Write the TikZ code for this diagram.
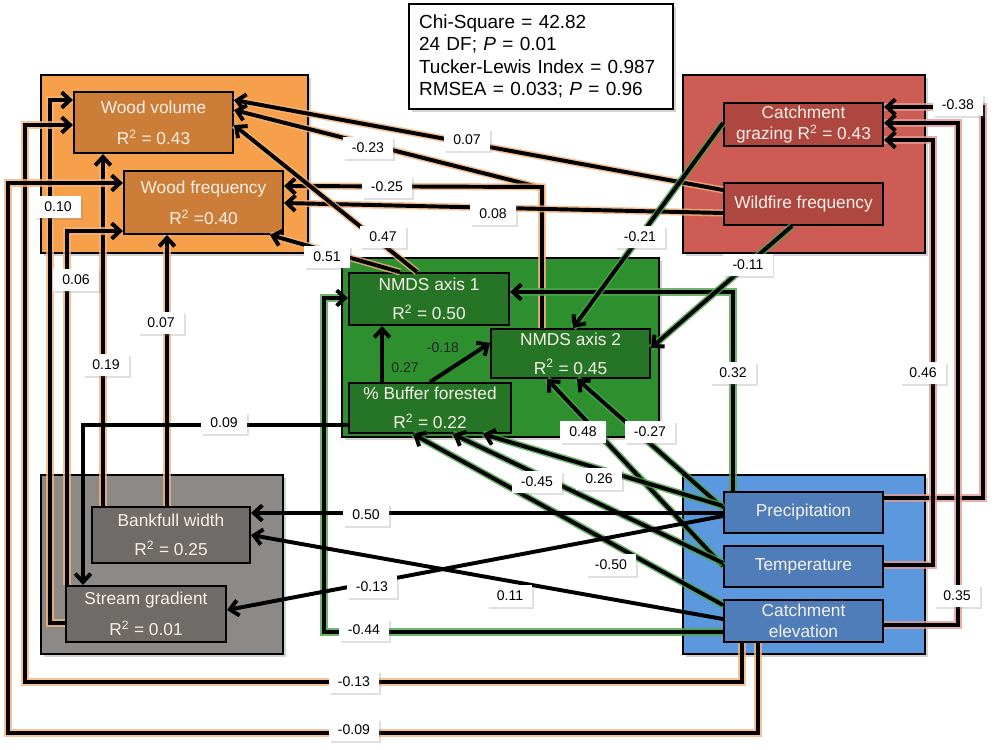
\documentclass[tikz,border=0pt]{standalone}
\usepackage{fontspec}
\setmainfont{Liberation Sans}
\usetikzlibrary{arrows.meta,shadows}

\definecolor{orgrp}{HTML}{F6A04B}
\definecolor{orvar}{HTML}{CC7D38}
\definecolor{rdgrp}{HTML}{CD5C55}
\definecolor{rdvar}{HTML}{AF4741}
\definecolor{gngrp}{HTML}{2E8F2E}
\definecolor{gnvar}{HTML}{267526}
\definecolor{gygrp}{HTML}{8D8986}
\definecolor{gyvar}{HTML}{6F6B68}
\definecolor{blgrp}{HTML}{5B98DE}
\definecolor{blvar}{HTML}{4F7DBA}
\definecolor{orglow}{HTML}{F4B27A}
\definecolor{gnglow}{HTML}{4CA64C}
\definecolor{rdglow}{HTML}{E49A94}
\definecolor{vartext}{HTML}{F7F0E8}

\tikzset{
	grp/.style={draw=black, line width=1.8pt, drop shadow={shadow xshift=2pt, shadow yshift=-2pt, opacity=0.35}},
	var/.style={draw=black, line width=1.4pt, minimum width=3.975cm, inner sep=0pt, align=center, text=vartext, font=\fontsize{12.3}{15}\selectfont},
	arr/.style={line width=2.8pt, -{Straight Barb[length=6pt, width=11pt]}},
	orglw/.style={preaction={draw=orglow, line width=5pt, opacity=0.8, -}},
	gnglw/.style={preaction={draw=gnglow, line width=5pt, opacity=0.8, -}},
	rdglw/.style={preaction={draw=rdglow, line width=5pt, opacity=0.8, -}},
	coef/.style={fill=white, inner xsep=6.5pt, inner ysep=0pt, minimum height=15.5pt, font=\fontsize{10}{12}\selectfont, drop shadow={shadow xshift=1.2pt, shadow yshift=-1.2pt, opacity=0.25}},
	stats/.style={draw=black, line width=1.5pt, fill=white, minimum width=6.6cm, minimum height=2.625cm, text width=6.1cm, align=left, inner xsep=7pt, font=\fontsize{13.5}{16}\selectfont, drop shadow={shadow xshift=2pt, shadow yshift=-2pt, opacity=0.35}}
}

\begin{document}
\begin{tikzpicture}[x=0.025cm, y=-0.025cm]
	\useasboundingbox (0,0) rectangle (1000,750);
	\fill[white] (0,0) rectangle (1000,750);
	% groups
	\draw[grp, fill=orgrp] (41,75) rectangle (308,253);
	\draw[grp, fill=rdgrp] (683,75) rectangle (925,253);
	\draw[grp, fill=gngrp] (342,258) rectangle (659,437);
	\draw[grp, fill=gygrp] (41,475) rectangle (283,654);
	\draw[grp, fill=blgrp] (683,475) rectangle (925,654);
	% variables
	\node[var, fill=orvar, minimum height=1.525cm] (wv) at (153.5,122.5) {Wood volume\\[7pt]R\textsuperscript{2} = 0.43};
	\node[var, fill=orvar, minimum height=1.575cm] (wf) at (203.5,202.5) {Wood frequency\\[7pt]R\textsuperscript{2} =0.40};
	\node[var, fill=rdvar, minimum height=1.075cm] (gr) at (803.5,124.5) {Catchment\\grazing R\textsuperscript{2} = 0.43};
	\node[var, fill=rdvar, minimum height=1.05cm] (wild) at (803.5,204) {Wildfire frequency};
	\node[var, fill=gnvar, minimum height=1.3cm, minimum width=4cm] (nm1) at (429,299) {NMDS axis 1\\[6pt]R\textsuperscript{2} = 0.50};
	\node[var, fill=gnvar, minimum height=1.225cm] (nm2) at (570.5,353.5) {NMDS axis 2\\[5.5pt]R\textsuperscript{2} = 0.45};
	\node[var, fill=gnvar, minimum height=1.25cm, minimum width=4.05cm] (bf) at (430,408) {\% Buffer forested\\[5.5pt]R\textsuperscript{2} = 0.22};
	\node[var, fill=gyvar, minimum height=1.4cm, minimum width=3.95cm] (bw) at (171,535) {Bankfull width\\[6pt]R\textsuperscript{2} = 0.25};
	\node[var, fill=gyvar, minimum height=1.4cm, minimum width=4cm] (sg) at (146,614) {Stream gradient\\[7pt]R\textsuperscript{2} = 0.01};
	\node[var, fill=blvar, minimum height=1.025cm] (pr) at (803.5,512.5) {Precipitation};
	\node[var, fill=blvar, minimum height=1.025cm] (te) at (803.5,566.5) {Temperature};
	\node[var, fill=blvar, minimum height=1.05cm] (el) at (803.5,621) {Catchment\\elevation};
	% paths to wood
	\draw[arr, orglw] (wild.west |- 0,190) -- (wv.east |- 0,100);
	\draw[arr, orglw] (542,0 |- nm2.north) -- (542,188) -- (wv.east |- 0,110);
	\draw[arr, orglw] (542,0 |- nm2.north) -- (542,187) -- (wf.east |- 0,186);
	\draw[arr, orglw] (wild.west |- 0,213) -- (wf.east |- 0,203);
	\draw[arr, orglw] (417,0 |- nm1.north) -- (wv.east |- 0,125);
	\draw[arr, orglw] (400,0 |- nm1.north) -- (270,0 |- wf.south);
	\draw[arr, orglw] (103,0 |- bw.north) -- (103,0 |- wv.south);
	\draw[arr, orglw] (167,0 |- bw.north) -- (167,0 |- wf.south);
	\draw[arr, orglw] (sg.west |- 0,623) -- (50,623) -- (50,100) -- (wv.west |- 0,100);
	\draw[arr, orglw] (67,0 |- sg.north) -- (67,231) -- (wf.west |- 0,231);
	\draw[arr, orglw] (742,0 |- el.south) -- (742,682) -- (25,682) -- (25,125) -- (wv.west |- 0,125);
	\draw[arr, orglw] (758,0 |- el.south) -- (758,733) -- (8,733) -- (8,183) -- (wf.west |- 0,183);
	% paths to community and buffer
	\draw[arr, gnglw] (733,0 |- pr.north) -- (733,292) -- (nm1.east |- 0,292);
	\draw[arr, gnglw] (el.west |- 0,632) -- (324,632) -- (324,298) -- (nm1.west |- 0,298);
	\draw[arr, gnglw] (pr.west |- 0,508) -- (577,0 |- nm2.south);
	\draw[arr, gnglw] (te.west |- 0,566) -- (547,0 |- nm2.south);
	\draw[arr, gnglw] (pr.west |- 0,506) -- (483,0 |- bf.south);
	\draw[arr, gnglw] (te.west |- 0,563) -- (453,0 |- bf.south);
	\draw[arr, gnglw] (el.west |- 0,605) -- (413,0 |- bf.south);
	\draw[arr, gnglw] (gr.west |- 0,123) -- (573,0 |- nm2.north);
	\draw[arr, gnglw] (792,0 |- wild.south) -- (nm2.east |- 0,348);
	% channel paths
	\draw[arr] (pr.west |- 0,513) -- (bw.east |- 0,513);
	\draw[arr] (el.west |- 0,619) -- (bw.east |- 0,535);
	\draw[arr] (pr.west |- 0,516) -- (sg.east |- 0,610);
	\draw[arr] (bf.west |- 0,425) -- (83,425) -- (83,0 |- sg.north);
	\draw[arr] (382,0 |- bf.north) -- (382,0 |- nm1.south);
	\draw[arr] (430,0 |- bf.north) -- (nm2.west |- 0,343);
	% paths to grazing
	\draw[arr, rdglw] (pr.east |- 0,498) -- (983,498) -- (983,107) -- (gr.east |- 0,107);
	\draw[arr, rdglw] (el.east |- 0,625) -- (958,625) -- (958,123) -- (gr.east |- 0,123);
	\draw[arr, rdglw] (te.east |- 0,565) -- (933,565) -- (933,140) -- (gr.east |- 0,140);
	% coefficients
	\node[coef] (c01) at (467,140) {0.07};
	\node[coef] (c02) at (368,148) {-0.23};
	\node[coef] (c03) at (387,187) {-0.25};
	\node[coef] (c04) at (493,214) {0.08};
	\node[coef] (c05) at (383,237) {0.47};
	\node[coef] (c06) at (327,257) {0.51};
	\node[coef] (c07) at (106,365) {0.19};
	\node[coef] (c08) at (161,323) {0.07};
	\node[coef] (c09) at (58,207) {0.10};
	\node[coef] (c10) at (76,280) {0.06};
	\node[coef] (c11) at (354,682) {-0.13};
	\node[coef] (c12) at (354,730) {-0.09};
	\node[coef] (c13) at (733,373) {0.32};
	\node[coef] (c14) at (364,630) {-0.44};
	\node[coef] (c15) at (650,432) {-0.27};
	\node[coef] (c16) at (583,432) {0.48};
	\node[coef] (c17) at (599,479) {0.26};
	\node[coef] (c18) at (537,482) {-0.45};
	\node[coef] (c19) at (611,565) {-0.50};
	\node[coef] (c20) at (640,237) {-0.21};
	\node[coef] (c21) at (748,265) {-0.11};
	\node[coef] (c22) at (366,515) {0.50};
	\node[coef] (c23) at (510,596) {0.11};
	\node[coef] (c24) at (372,587) {-0.13};
	\node[coef] (c25) at (224,423) {0.09};
	\node[font=\fontsize{10}{12}\selectfont, text=black!85] (c26) at (405,368) {0.27};
	\node[font=\fontsize{10}{12}\selectfont, text=black!85] (c27) at (443,348) {-0.18};
	\node[coef] (c28) at (958,105) {-0.38};
	\node[coef] (c29) at (957,596) {0.35};
	\node[coef] (c30) at (923,373) {0.46};
	% model fit
	\node[stats, anchor=north west] (fitbox) at (408,3) {Chi-Square = 42.82\\24 DF; \textit{P} = 0.01\\Tucker-Lewis Index = 0.987\\RMSEA = 0.033; \textit{P} = 0.96};
\end{tikzpicture}
\end{document}
